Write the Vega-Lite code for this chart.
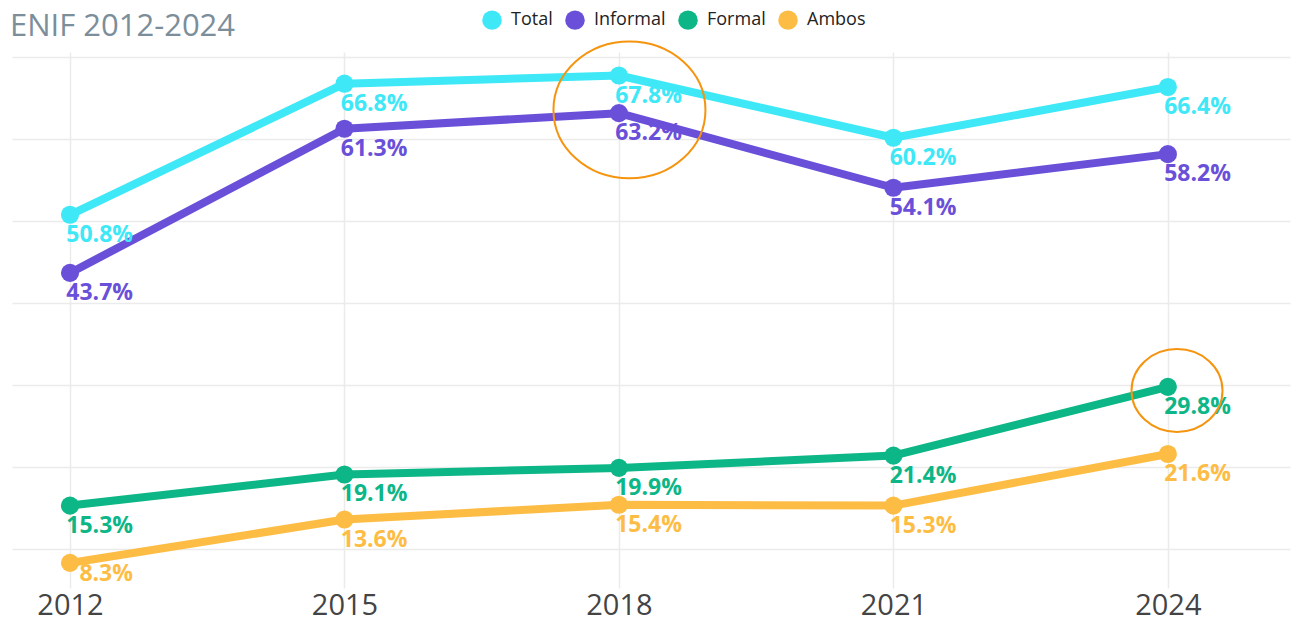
{
  "$schema": "https://vega.github.io/schema/vega-lite/v6.json",
  "autosize": "none",
  "width": 1278,
  "height": 536,
  "padding": {"left": 12, "top": 52, "right": 13, "bottom": 33},
  "background": "white",
  "title": {
    "text": "ENIF 2012-2024",
    "anchor": "start",
    "frame": "group",
    "orient": "top",
    "font": "Open Sans",
    "fontSize": 31,
    "fontWeight": "normal",
    "color": "#7b8e9a",
    "baseline": "alphabetic",
    "offset": -57,
    "dx": -2
  },
  "config": {
    "view": {"stroke": null},
    "font": "Open Sans"
  },
  "resolve": {"legend": {"color": "independent"}},
  "datasets": {
    "series": [
      {"year": 2012, "grupo": "Total", "valor": 50.8},
      {"year": 2015, "grupo": "Total", "valor": 66.8},
      {"year": 2018, "grupo": "Total", "valor": 67.8},
      {"year": 2021, "grupo": "Total", "valor": 60.2},
      {"year": 2024, "grupo": "Total", "valor": 66.4},
      {"year": 2012, "grupo": "Informal", "valor": 43.7},
      {"year": 2015, "grupo": "Informal", "valor": 61.3},
      {"year": 2018, "grupo": "Informal", "valor": 63.2},
      {"year": 2021, "grupo": "Informal", "valor": 54.1},
      {"year": 2024, "grupo": "Informal", "valor": 58.2},
      {"year": 2012, "grupo": "Formal", "valor": 15.3},
      {"year": 2015, "grupo": "Formal", "valor": 19.1},
      {"year": 2018, "grupo": "Formal", "valor": 19.9},
      {"year": 2021, "grupo": "Formal", "valor": 21.4},
      {"year": 2024, "grupo": "Formal", "valor": 29.8},
      {"year": 2012, "grupo": "Ambos", "valor": 8.3},
      {"year": 2015, "grupo": "Ambos", "valor": 13.6},
      {"year": 2018, "grupo": "Ambos", "valor": 15.4},
      {"year": 2021, "grupo": "Ambos", "valor": 15.3},
      {"year": 2024, "grupo": "Ambos", "valor": 21.6}
    ],
    "bigAnnot": [{"year": 2018.115, "valor": 63.6}],
    "smallAnnot": [{"year": 2024.1, "valor": 29.35}]
  },
  "layer": [
    {
      "data": {"name": "series"},
      "mark": {"type": "line", "strokeWidth": 8, "strokeCap": "round", "strokeJoin": "round"},
      "encoding": {
        "x": {
          "field": "year", "type": "quantitative",
          "scale": {"domain": [2011.366, 2025.335], "nice": false, "zero": false},
          "axis": {
            "values": [2012, 2015, 2018, 2021, 2024],
            "format": "d",
            "title": null,
            "domain": false,
            "ticks": false,
            "grid": true,
            "gridColor": "#ebebeb",
            "gridWidth": 1.5,
            "labelFont": "Open Sans",
            "labelFontSize": 29,
            "labelColor": "#444444",
            "labelPadding": 3,
            "labelFlush": false
          }
        },
        "y": {
          "field": "valor", "type": "quantitative",
          "scale": {"domain": [5.24, 70.67], "nice": false, "zero": false},
          "axis": {
            "values": [10, 20, 30, 40, 50, 60, 70],
            "labels": false,
            "ticks": false,
            "domain": false,
            "title": null,
            "grid": true,
            "gridColor": "#ebebeb",
            "gridWidth": 1.5
          }
        },
        "color": {
          "field": "grupo", "type": "nominal",
          "scale": {"domain": ["Total", "Informal", "Formal", "Ambos"], "range": ["#3ee8f7", "#6a50d9", "#0db686", "#fdbd45"]},
          "legend": null
        },
        "detail": {"field": "grupo"}
      }
    },
    {
      "data": {"name": "series"},
      "mark": {"type": "point", "filled": true, "opacity": 1, "size": 330, "shape": "circle"},
      "encoding": {
        "x": {"field": "year", "type": "quantitative"},
        "y": {"field": "valor", "type": "quantitative"},
        "color": {
          "field": "grupo", "type": "nominal",
          "legend": {
            "orient": "none",
            "legendX": 470,
            "legendY": -42,
            "direction": "horizontal",
            "title": null,
            "symbolType": "circle",
            "symbolSize": 380,
            "symbolStrokeWidth": 0,
            "symbolOpacity": 1,
            "labelFont": "Open Sans",
            "labelFontSize": 18,
            "labelColor": "#222222",
            "labelOffset": 9,
            "columnPadding": 12
          }
        }
      }
    },
    {
      "data": {"name": "series"},
      "transform": [
        {"filter": "datum.valor >= 10"},
        {"calculate": "format(datum.valor, '.1f') + '%'", "as": "etiqueta"}
      ],
      "mark": {"type": "text", "align": "right", "baseline": "middle", "dx": 63, "dy": 20, "font": "Open Sans", "fontSize": 23, "fontWeight": "bold"},
      "encoding": {
        "x": {"field": "year", "type": "quantitative"},
        "y": {"field": "valor", "type": "quantitative"},
        "text": {"field": "etiqueta"},
        "color": {"field": "grupo", "type": "nominal", "legend": null}
      }
    },
    {
      "data": {"name": "series"},
      "transform": [
        {"filter": "datum.valor < 10"},
        {"calculate": "format(datum.valor, '.1f') + '%'", "as": "etiqueta"}
      ],
      "mark": {"type": "text", "align": "right", "baseline": "middle", "dx": 63, "dy": 11, "font": "Open Sans", "fontSize": 23, "fontWeight": "bold"},
      "encoding": {
        "x": {"field": "year", "type": "quantitative"},
        "y": {"field": "valor", "type": "quantitative"},
        "text": {"field": "etiqueta"},
        "color": {"field": "grupo", "type": "nominal", "legend": null}
      }
    },
    {
      "data": {"name": "bigAnnot"},
      "mark": {"type": "point", "filled": false, "stroke": "#f5940f", "strokeWidth": 2, "opacity": 1, "size": 23104, "shape": "M -1 0 A 1 0.9 0 1 1 1 0 A 1 0.9 0 1 1 -1 0 Z"},
      "encoding": {
        "x": {"field": "year", "type": "quantitative"},
        "y": {"field": "valor", "type": "quantitative"}
      }
    },
    {
      "data": {"name": "smallAnnot"},
      "mark": {"type": "point", "filled": false, "stroke": "#f5940f", "strokeWidth": 2, "opacity": 1, "size": 8281, "shape": "M -1 0 A 1 0.91 0 1 1 1 0 A 1 0.91 0 1 1 -1 0 Z"},
      "encoding": {
        "x": {"field": "year", "type": "quantitative"},
        "y": {"field": "valor", "type": "quantitative"}
      }
    }
  ]
}
